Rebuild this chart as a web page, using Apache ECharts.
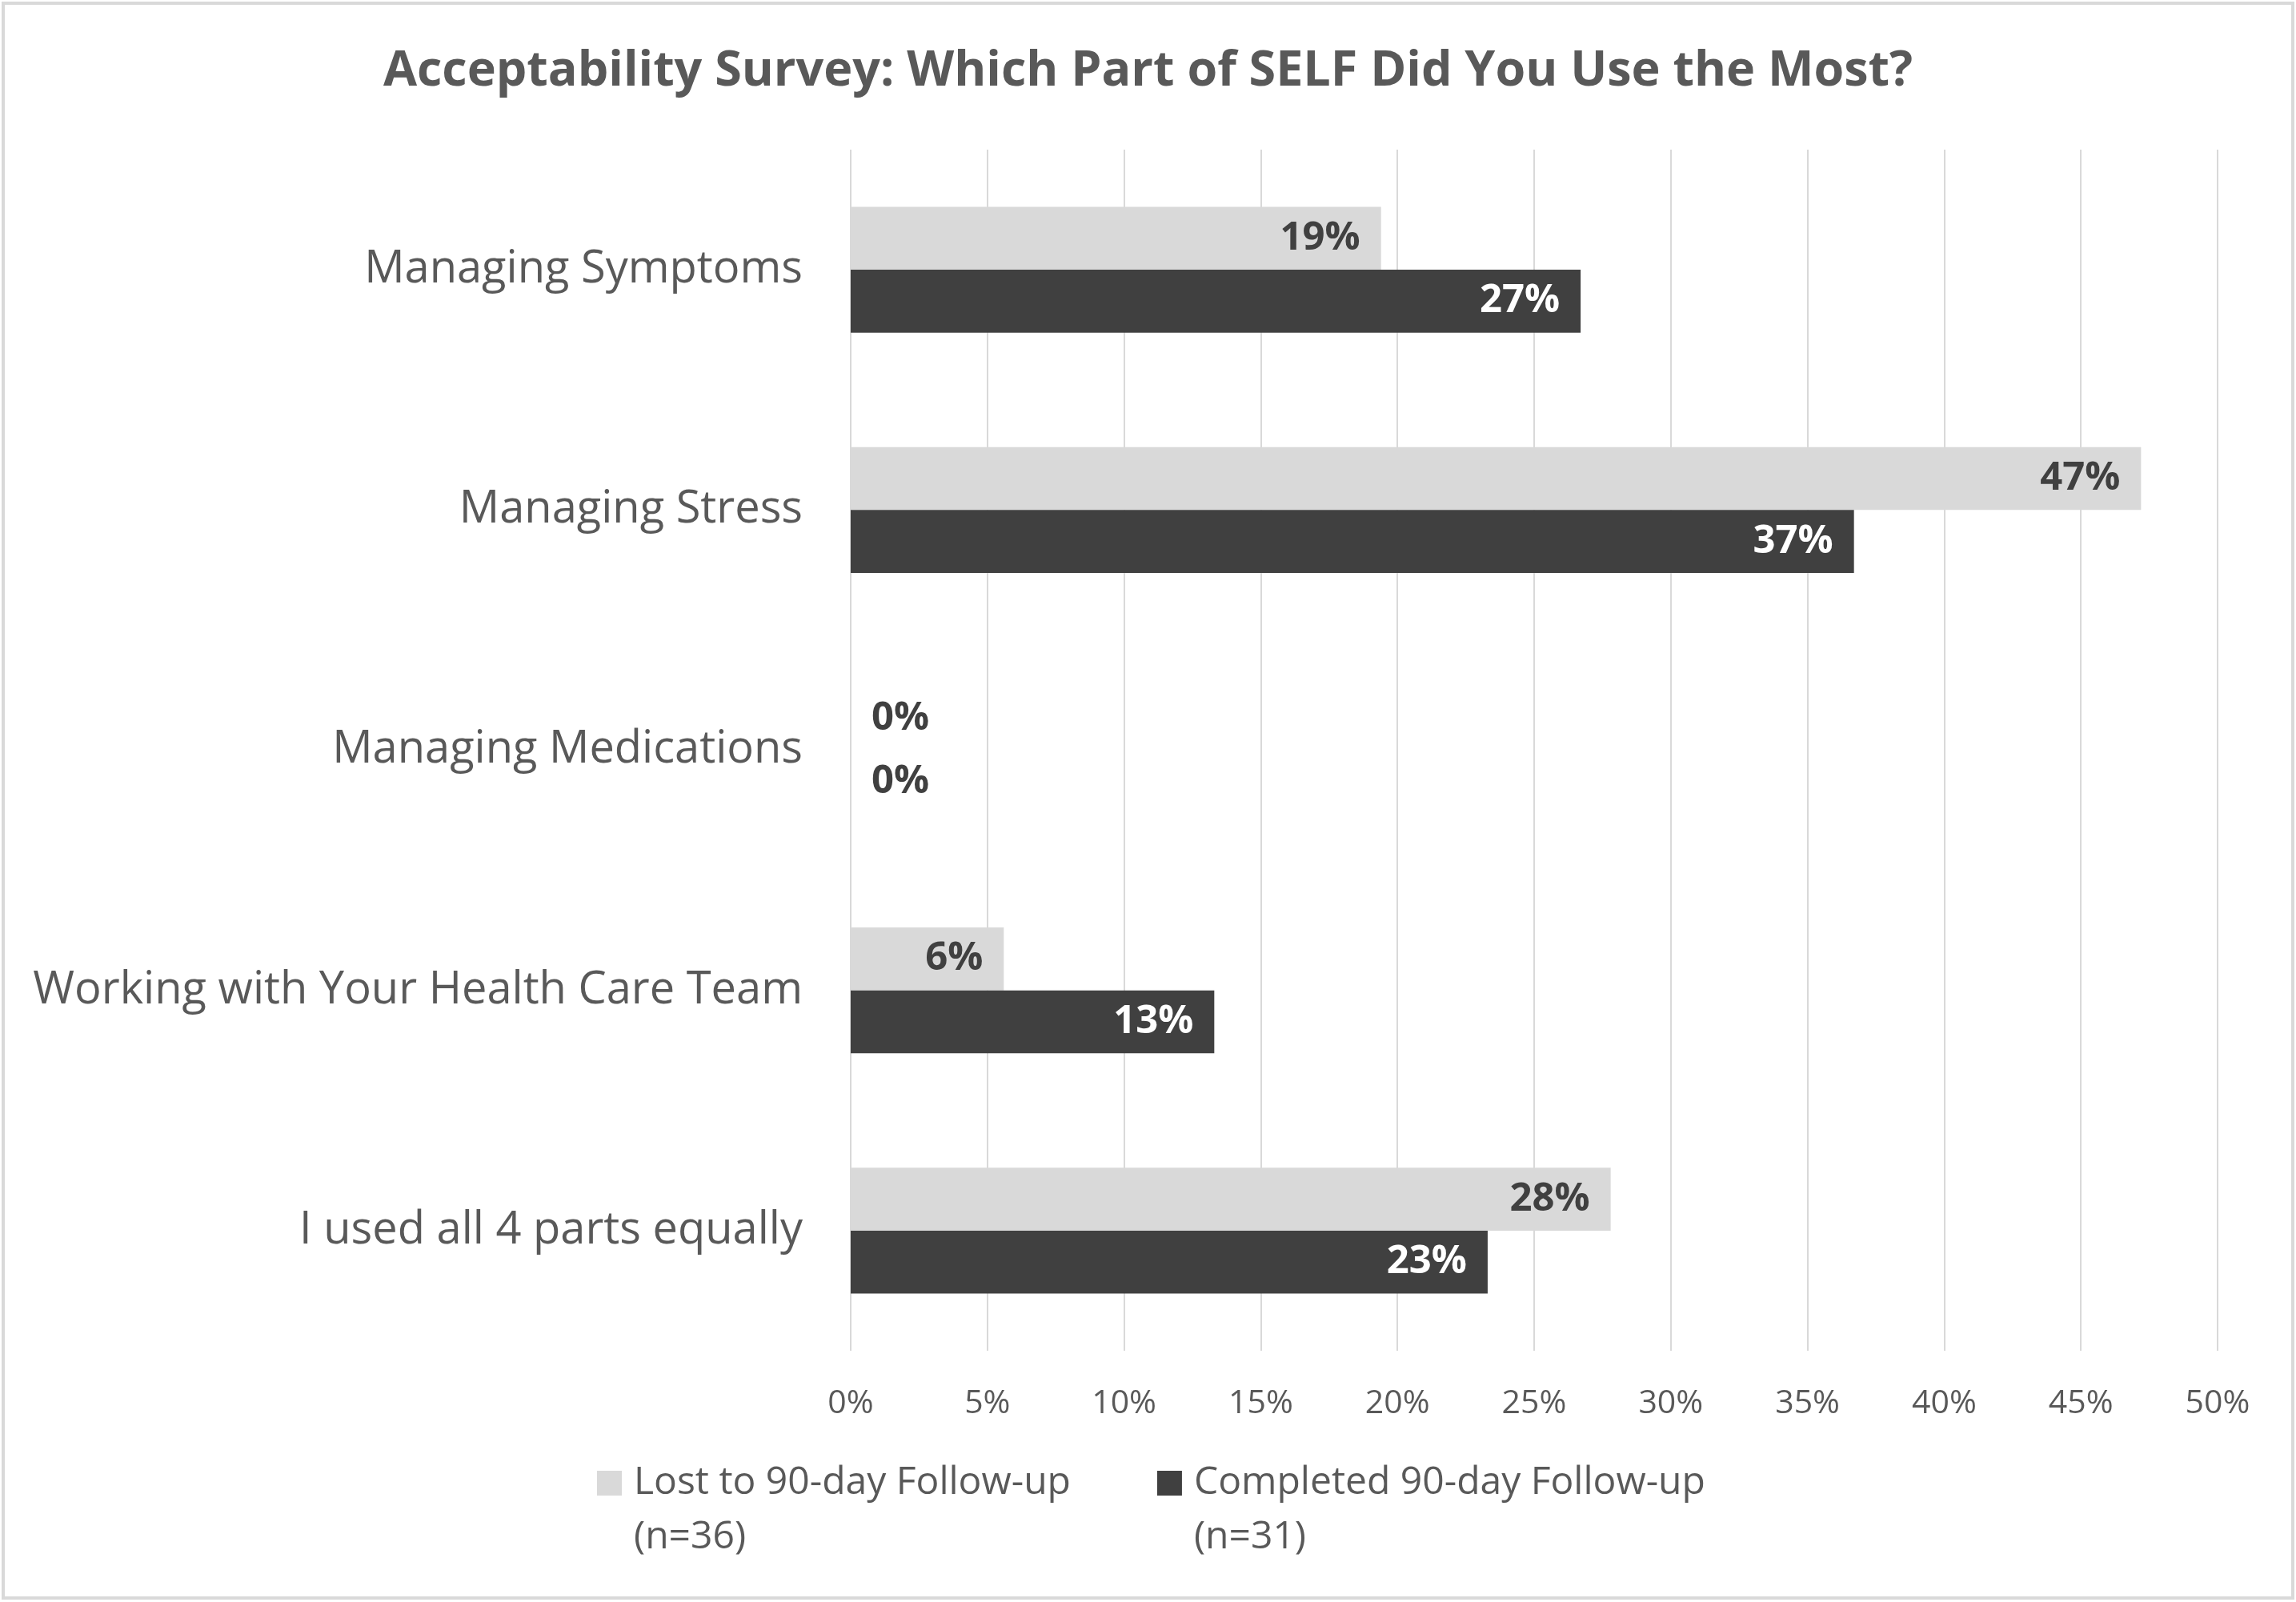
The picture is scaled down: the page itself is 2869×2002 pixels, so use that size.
<!DOCTYPE html>
<html>
<head>
<meta charset="utf-8">
<script src="https://cdn.jsdelivr.net/npm/echarts@6/dist/echarts.min.js"></script>
<style>
html,body{margin:0;padding:0;background:#fff;}
#c{width:2869px;height:2002px;}
</style>
</head>
<body>
<div id="c"></div>
<script>
const titleText = 'Acceptability Survey: Which Part of SELF Did You Use the Most?';
const categories = ['Managing Symptoms', 'Managing Stress', 'Managing Medications', 'Working with Your Health Care Team', 'I used all 4 parts equally'];
const seriesNames = ['Lost to 90-day Follow-up\n(n=36)', 'Completed 90-day Follow-up\n(n=31)'];
const lostValues = [19.4, 47.2, 0, 5.6, 27.8];
const completedValues = [26.7, 36.7, 0, 13.3, 23.3];
const xTicks = [0, 5, 10, 15, 20, 25, 30, 35, 40, 45, 50];

const FONT = '"Open Sans", "Noto Sans", sans-serif';
const chart = echarts.init(document.getElementById('c'), null, {renderer: 'canvas'});

function mk(values) {
  return values.map(v => v === 0
    ? {value: v, label: {position: 'right', distance: 26, color: '#404040'}}
    : v);
}

// legend icon: square aligned with the first text line
const LH = 68;
const legendIcon = 'path://M0,' + (LH / 2 - 15) + 'L31,' + (LH / 2 - 15) + 'L31,' + (LH / 2 + 16) + 'L0,' + (LH / 2 + 16) + 'Z' +
  'M0,0L0.01,0M41,' + (2 * LH) + 'L40.99,' + (2 * LH);

const option = {
  backgroundColor: '#ffffff',
  animation: false,
  title: {
    text: titleText,
    left: 'center',
    top: 54,
    textStyle: {fontFamily: FONT, fontSize: 61, fontWeight: 'bold', color: '#595959'}
  },
  graphic: [{
    type: 'rect',
    shape: {x: 4, y: 4, width: 2861, height: 1993},
    style: {fill: 'none', stroke: '#d9d9d9', lineWidth: 4},
    silent: true
  }],
  legend: {
    left: 746,
    top: 1819,
    padding: 0,
    itemWidth: 41,
    itemHeight: 2 * LH,
    itemGap: 108,
    icon: legendIcon,
    textStyle: {fontFamily: FONT, fontSize: 48, color: '#595959', lineHeight: LH},
    data: seriesNames
  },
  grid: {left: 1063, right: 98, top: 187, bottom: 314, containLabel: false},
  xAxis: {
    type: 'value',
    min: 0,
    max: 50,
    interval: 5,
    axisLine: {show: false},
    axisTick: {show: false},
    splitLine: {show: true, lineStyle: {color: '#d9d9d9', width: 2}},
    axisLabel: {fontFamily: FONT, fontSize: 41, color: '#595959', margin: 46, formatter: v => v + '%'}
  },
  yAxis: {
    type: 'category',
    inverse: true,
    data: categories,
    axisLine: {show: false},
    axisTick: {show: false},
    axisLabel: {fontFamily: FONT, fontSize: 56, color: '#595959', margin: 60}
  },
  series: [
    {
      name: seriesNames[0],
      type: 'bar',
      data: mk(lostValues),
      itemStyle: {color: '#d9d9d9'},
      barGap: '0%',
      barCategoryGap: '47.6%',
      label: {show: true, position: 'insideRight', distance: 26, fontFamily: FONT, fontSize: 49, fontWeight: 'bold', color: '#404040', formatter: p => Math.round(p.value) + '%'}
    },
    {
      name: seriesNames[1],
      type: 'bar',
      data: mk(completedValues),
      itemStyle: {color: '#404040'},
      barGap: '0%',
      barCategoryGap: '47.6%',
      label: {show: true, position: 'insideRight', distance: 26, fontFamily: FONT, fontSize: 49, fontWeight: 'bold', color: '#ffffff', formatter: p => Math.round(p.value) + '%'}
    }
  ]
};
chart.setOption(option);
</script>
</body>
</html>
